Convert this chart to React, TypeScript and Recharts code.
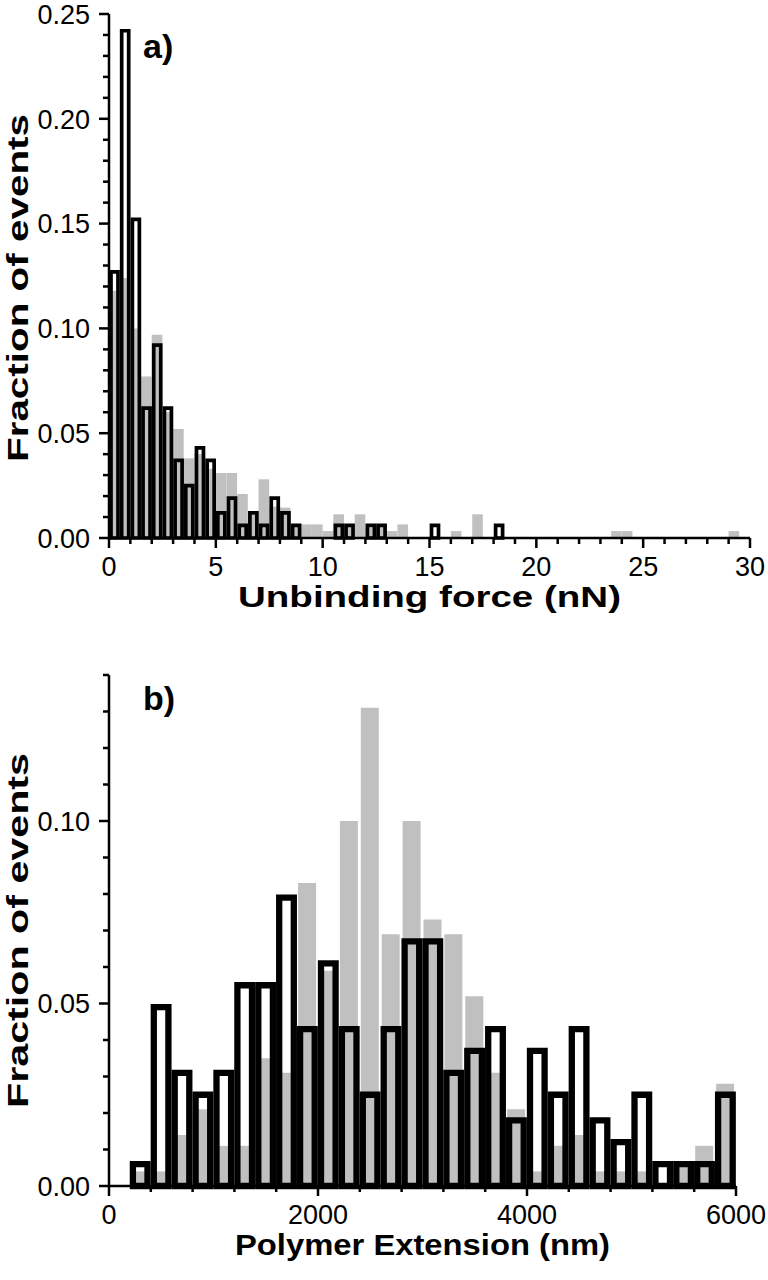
import React from 'react';
import { BarChart, Bar, XAxis, YAxis } from 'recharts';

const FONT = '"Liberation Sans", Arial, Helvetica, sans-serif';
const GRAY = '#c0c0c0';

// panel a) unbinding force, 0.5 nN bins (bin centres)
const forceBins = [
  0.25, 0.75, 1.25, 1.75, 2.25, 2.75, 3.25, 3.75, 4.25, 4.75,
  5.25, 5.75, 6.25, 6.75, 7.25, 7.75, 8.25, 8.75, 9.25, 9.75,
  10.25, 10.75, 11.25, 11.75, 12.25, 12.75, 13.25, 13.75, 14.25, 14.75,
  15.25, 15.75, 16.25, 16.75, 17.25, 17.75, 18.25, 18.75, 19.25, 19.75,
  20.25, 20.75, 21.25, 21.75, 22.25, 22.75, 23.25, 23.75, 24.25, 24.75,
  25.25, 25.75, 26.25, 26.75, 27.25, 27.75, 28.25, 28.75, 29.25, 29.75,
];
const forceOutline = [
  0.127, 0.242, 0.152, 0.062, 0.092, 0.062, 0.037, 0.025, 0.043, 0.037,
  0.012, 0.019, 0.006, 0.012, 0.006, 0.019, 0.012, 0.006, 0, 0,
  0, 0.006, 0.006, 0, 0.006, 0.006, 0, 0, 0, 0,
  0.006, 0, 0, 0, 0, 0, 0.006, 0, 0, 0,
  0, 0, 0, 0, 0, 0, 0, 0, 0, 0,
  0, 0, 0, 0, 0, 0, 0, 0, 0, 0,
];
const forceFilled = [
  0.118, 0.124, 0.1, 0.077, 0.097, 0.06, 0.052, 0.038, 0.04, 0.033,
  0.031, 0.031, 0.021, 0.011, 0.028, 0.015, 0.0145, 0.0065, 0.0065, 0.0065,
  0.0033, 0.0113, 0.0065, 0.0113, 0.005, 0.0065, 0.0033, 0.0065, 0, 0,
  0, 0, 0.0033, 0, 0.0113, 0, 0, 0, 0, 0,
  0, 0, 0, 0, 0, 0, 0, 0.0033, 0.0033, 0,
  0, 0, 0, 0, 0, 0, 0, 0, 0.0033, 0,
];
const forceXTicks = [
  0, 1, 2, 3, 4, 5, 6, 7, 8, 9, 10, 11, 12, 13, 14, 15,
  16, 17, 18, 19, 20, 21, 22, 23, 24, 25, 26, 27, 28, 29, 30,
];
const forceXMajor = [0, 5, 10, 15, 20, 25, 30];
const forceYTicks = [
  0, 0.01, 0.02, 0.03, 0.04, 0.05, 0.06, 0.07, 0.08, 0.09, 0.1, 0.11, 0.12,
  0.13, 0.14, 0.15, 0.16, 0.17, 0.18, 0.19, 0.2, 0.21, 0.22, 0.23, 0.24, 0.25,
];
const forceYMajor = [0, 0.05, 0.1, 0.15, 0.2, 0.25];

// panel b) polymer extension, 200 nm bins (bin centres)
const extBins = [
  100, 300, 500, 700, 900, 1100, 1300, 1500, 1700, 1900,
  2100, 2300, 2500, 2700, 2900, 3100, 3300, 3500, 3700, 3900,
  4100, 4300, 4500, 4700, 4900, 5100, 5300, 5500, 5700, 5900,
];
const extOutline = [
  0, 0.006, 0.049, 0.031, 0.025, 0.031, 0.055, 0.055, 0.079, 0.043,
  0.061, 0.043, 0.025, 0.043, 0.067, 0.067, 0.031, 0.037, 0.043, 0.018,
  0.037, 0.025, 0.043, 0.018, 0.012, 0.025, 0.006, 0.006, 0.006, 0.025,
];
const extFilled = [
  0, 0.004, 0.004, 0.014, 0.021, 0.011, 0.011, 0.035, 0.031, 0.083,
  0.059, 0.1, 0.131, 0.069, 0.1, 0.073, 0.069, 0.052, 0.031, 0.021,
  0.004, 0.011, 0.014, 0.004, 0.004, 0.004, 0, 0.006, 0.011, 0.028,
];
const extXTicks = [
  0, 400, 800, 1200, 1600, 2000, 2400, 2800, 3200, 3600, 4000, 4400, 4800, 5200, 5600, 6000,
];
const extXMajor = [0, 2000, 4000, 6000];
const extYTicks = [
  0, 0.01, 0.02, 0.03, 0.04, 0.05, 0.06, 0.07, 0.08, 0.09, 0.1, 0.11, 0.12, 0.13, 0.14,
];
const extYMajor = [0, 0.05, 0.1];

const forceRows = forceBins.map((x, i) => ({ x, filled: forceFilled[i], outline: forceOutline[i] }));
const extRows = extBins.map((x, i) => ({ x, filled: extFilled[i], outline: extOutline[i] }));

const isMajor = (v: number, majors: number[]) => majors.some((m) => Math.abs(m - v) < 1e-9);

function XTick({ x, y, payload, majors }: any) {
  const major = isMajor(payload.value, majors);
  return (
    <g>
      <line x1={x} x2={x} y1={y} y2={y + (major ? 10 : 6)} stroke="#000" strokeWidth={2.5} />
      {major && (
        <text x={x} y={y + 38} textAnchor="middle" fontFamily={FONT} fontSize={27} fill="#000">
          {String(payload.value)}
        </text>
      )}
    </g>
  );
}

function YTick({ x, y, payload, majors }: any) {
  const major = isMajor(payload.value, majors);
  return (
    <g>
      <line x1={x} x2={x - (major ? 10 : 6)} y1={y} y2={y} stroke="#000" strokeWidth={2.5} />
      {major && (
        <text x={x - 19} y={y + 9.7} textAnchor="end" fontFamily={FONT} fontSize={27} fill="#000">
          {payload.value.toFixed(2)}
        </text>
      )}
    </g>
  );
}

function XTitle({ viewBox, text, length }: any) {
  const cx = viewBox.x + viewBox.width / 2;
  return (
    <text
      x={cx}
      y={viewBox.y + 69}
      textAnchor="middle"
      fontFamily={FONT}
      fontWeight="bold"
      fontSize={29}
      fill="#000"
      textLength={length}
      lengthAdjust="spacingAndGlyphs"
    >
      {text}
    </text>
  );
}

function YTitle({ viewBox, text, length, shift }: any) {
  const cx = 28;
  const cy = viewBox.y + viewBox.height / 2 + shift;
  return (
    <text
      x={cx}
      y={cy}
      transform={`rotate(-90 ${cx} ${cy})`}
      textAnchor="middle"
      fontFamily={FONT}
      fontWeight="bold"
      fontSize={30}
      fill="#000"
      textLength={length}
      lengthAdjust="spacingAndGlyphs"
    >
      {text}
    </text>
  );
}

const axisLine = { stroke: '#000', strokeWidth: 2.5 };

export default function App() {
  return (
    <div style={{ position: 'absolute', left: 0, top: 0, width: 768, height: 1280, background: '#fff' }}>
      <BarChart width={768} height={620} data={forceRows} margin={{ top: 14, right: 18, bottom: 10, left: 0 }}>
        <XAxis
          xAxisId="fill"
          dataKey="x"
          type="number"
          domain={[0, 30]}
          ticks={forceXTicks}
          interval={0}
          tickSize={0}
          tickMargin={0}
          tickLine={false}
          axisLine={axisLine}
          height={72}
          tick={(p: any) => <XTick {...p} majors={forceXMajor} />}
          label={<XTitle text="Unbinding force (nN)" length={383} />}
        />
        <XAxis xAxisId="line" dataKey="x" type="number" domain={[0, 30]} hide />
        <YAxis
          type="number"
          domain={[0, 0.25]}
          ticks={forceYTicks}
          interval={0}
          width={109}
          tickSize={0}
          tickMargin={0}
          tickLine={false}
          axisLine={axisLine}
          tick={(p: any) => <YTick {...p} majors={forceYMajor} />}
          label={<YTitle text="Fraction of events" length={348} shift={12} />}
        />
        <Bar xAxisId="fill" dataKey="filled" fill={GRAY} barSize={10.6} isAnimationActive={false} />
        <Bar
          xAxisId="line"
          dataKey="outline"
          fill="none"
          stroke="#000"
          strokeWidth={3.7}
          barSize={7}
          isAnimationActive={false}
        />
        <text x={143} y={58} fontFamily={FONT} fontWeight="bold" fontSize={34} fill="#000">
          a)
        </text>
      </BarChart>
      <BarChart width={768} height={660} data={extRows} margin={{ top: 55, right: 32, bottom: 14, left: 0 }}>
        <XAxis
          xAxisId="fill"
          dataKey="x"
          type="number"
          domain={[0, 6000]}
          ticks={extXTicks}
          interval={0}
          tickSize={0}
          tickMargin={0}
          tickLine={false}
          axisLine={axisLine}
          height={80}
          tick={(p: any) => <XTick {...p} majors={extXMajor} />}
          label={<XTitle text="Polymer Extension (nm)" length={375} />}
        />
        <XAxis xAxisId="line" dataKey="x" type="number" domain={[0, 6000]} hide />
        <YAxis
          type="number"
          domain={[0, 0.14]}
          ticks={extYTicks}
          interval={0}
          width={109}
          tickSize={0}
          tickMargin={0}
          tickLine={false}
          axisLine={axisLine}
          tick={(p: any) => <YTick {...p} majors={extYMajor} />}
          label={<YTitle text="Fraction of events" length={355} shift={0} />}
        />
        <Bar xAxisId="fill" dataKey="filled" fill={GRAY} barSize={18} isAnimationActive={false} />
        <Bar
          xAxisId="line"
          dataKey="outline"
          fill="none"
          stroke="#000"
          strokeWidth={6.3}
          barSize={14.6}
          isAnimationActive={false}
        />
        <text x={143} y={90} fontFamily={FONT} fontWeight="bold" fontSize={34} fill="#000">
          b)
        </text>
      </BarChart>
    </div>
  );
}
